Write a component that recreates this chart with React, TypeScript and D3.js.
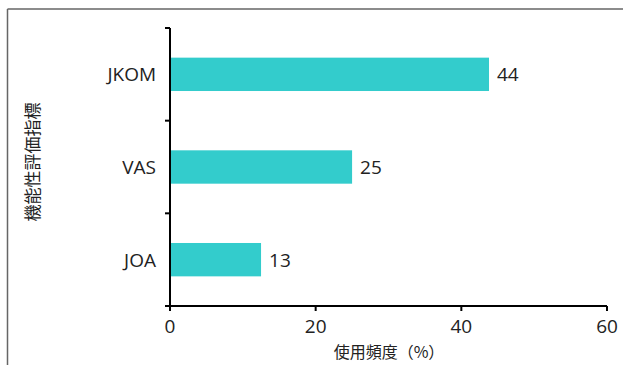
import React from "react";
import * as d3 from "d3";

const categories = ["JKOM", "VAS", "JOA"];
const values = [43.8, 25, 12.5];
const xTicks = [0, 20, 40, 60];
const xTitle = "使用頻度（%）";
const yTitle = "機能性評価指標";

export default function App() {
  const W = 623, H = 365;
  const left = 170, right = 607, top = 28, bottom = 306;
  const x = d3.scaleLinear().domain([0, 60]).range([left, right]);
  const y = d3.scaleBand().domain(categories).range([top, bottom]).paddingInner(0.64).paddingOuter(0.32);
  const latin = "'Open Sans', 'Noto Sans CJK JP', sans-serif";
  const cjk = "'Noto Sans CJK JP', sans-serif";
  const bh = y.bandwidth();
  const step = (bottom - top) / categories.length;
  const bounds = d3.range(categories.length + 1).map(i => top + i * step);
  return (
    <svg width={W} height={H} style={{ position: "absolute", left: 0, top: 0 }} fontFamily={latin}>
      <rect x={0} y={0} width={W} height={H} fill="#fff" />
      <line x1={7.5} y1={9} x2={7.5} y2={H} stroke="#666" strokeWidth={1.5} />
      <line x1={7.5} y1={9} x2={W} y2={9} stroke="#666" strokeWidth={1.5} />
      {categories.map((c, i) => (
        <g key={c}>
          <rect x={x(0)} y={y(c)!} width={x(values[i]) - x(0)} height={bh} fill="#33CCCC" />
          <text x={x(values[i]) + 8} y={y(c)! + bh / 2} dy="0.36em" fontSize={19} fill="#222">{Math.round(values[i])}</text>
          <text x={156} y={y(c)! + bh / 2} dy="0.36em" fontSize={19} textAnchor="end" fill="#222">{c}</text>
        </g>
      ))}
      <line x1={left} y1={top} x2={left} y2={bottom} stroke="#000" strokeWidth={2} />
      {bounds.map((b, i) => (
        <line key={i} x1={left - 5} y1={b} x2={left} y2={b} stroke="#000" strokeWidth={2} />
      ))}
      <line x1={left - 5} y1={bottom} x2={right} y2={bottom} stroke="#000" strokeWidth={2} />
      {xTicks.map(t => (
        <g key={t}>
          <line x1={x(t)} y1={bottom} x2={x(t)} y2={bottom + 5} stroke="#000" strokeWidth={2} />
          <text x={x(t)} y={bottom + 20} dy="0.36em" fontSize={19} textAnchor="middle" fill="#222">{t}</text>
        </g>
      ))}
      <text x={389} y={352} dy="0.35em" fontSize={16} textAnchor="middle" fill="#222" fontFamily={cjk}>{xTitle}</text>
      <text transform={`translate(33,162) rotate(-90)`} dy="0.35em" fontSize={17} textAnchor="middle" fill="#222" fontFamily={cjk}>{yTitle}</text>
    </svg>
  );
}
